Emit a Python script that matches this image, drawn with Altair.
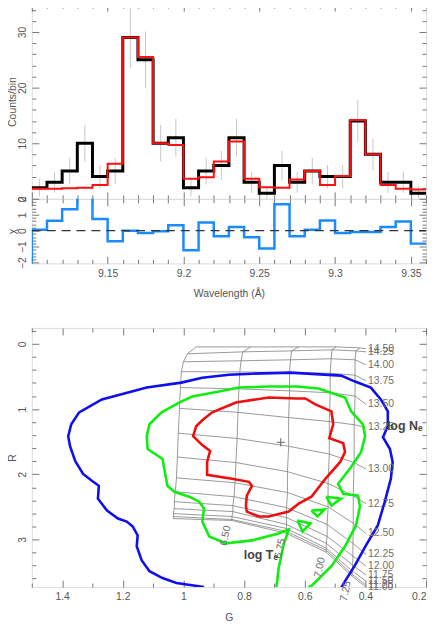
import altair as alt
import pandas as pd

# ---------------- spectrum panel ----------------
bin_lo = [9.10, 9.11, 9.12, 9.13, 9.14, 9.15, 9.16, 9.17, 9.18, 9.19, 9.20, 9.21, 9.22,
          9.23, 9.24, 9.25, 9.26, 9.27, 9.28, 9.29, 9.30, 9.31, 9.32, 9.33, 9.34, 9.35]
bin_hi_end = 9.36
counts = [2, 3, 5, 10, 4, 5, 29, 25, 10, 11, 2, 5, 6, 11, 3, 1, 6, 3, 5, 4, 4, 14, 8, 3, 3, 1]
model = [1.8, 1.8, 1.9, 2.0, 2.5, 6.3, 29, 25.5, 10, 9.7, 3.6, 3.9, 6.7, 10.3, 3.6, 2.1, 2.0,
         3.5, 5.0, 2.5, 4.1, 14.2, 8.0, 2.5, 1.8, 1.7]
count_err = [1.6, 1.9, 2.4, 3.3, 2.1, 2.4, 5.5, 5.1, 3.3, 3.4, 1.6, 2.4, 2.6, 3.4, 1.9, 1.2,
             2.6, 1.9, 2.4, 2.1, 2.1, 3.8, 2.9, 1.9, 1.9, 1.2]
resid = [0.06, 0.62, 1.35, 2.4, 0.73, -0.66, 0.0, -0.15, -0.04, 0.35, -1.22, 0.52, -0.35, 0.23,
         -0.41, -1.12, 1.66, -0.35, 0.06, 0.64, -0.15, -0.08, -0.08, 0.23, 0.58, -0.81]

# ---------------- line-ratio grid (G, R) ----------------
log_ne = [14.50, 14.25, 14.00, 13.75, 13.50, 13.25, 13.00, 12.75, 12.50, 12.25, 12.00, 11.75, 11.50, 11.25, 11.00]
log_t = [6.25, 6.50, 6.75, 7.00, 7.25, 7.50]
grid_G = [
    [0.958, 0.987, 1.000, 1.007, 1.010, 1.013, 1.017, 1.020, 1.023, 1.027, 1.030, 1.030, 1.033, 1.033, 1.033],
    [0.778, 0.804, 0.810, 0.814, 0.817, 0.820, 0.823, 0.827, 0.830, 0.833, 0.837, 0.837, 0.840, 0.840, 0.840],
    [0.620, 0.643, 0.647, 0.650, 0.650, 0.653, 0.653, 0.657, 0.657, 0.660, 0.660, 0.660, 0.660, 0.660, 0.660],
    [0.496, 0.510, 0.513, 0.516, 0.516, 0.519, 0.519, 0.523, 0.523, 0.526, 0.526, 0.529, 0.529, 0.529, 0.529],
    [0.418, 0.431, 0.434, 0.434, 0.434, 0.437, 0.437, 0.440, 0.440, 0.441, 0.441, 0.442, 0.443, 0.444, 0.444],
    [0.398, 0.398, 0.398, 0.398, 0.398, 0.398, 0.398, 0.398, 0.398, 0.398, 0.398, 0.398, 0.398, 0.398, 0.398],
]
grid_R = [
    [0.046, 0.152, 0.274, 0.426, 0.670, 0.989, 1.370, 1.735, 2.055, 2.268, 2.420, 2.527, 2.603, 2.648, 2.679],
    [0.046, 0.122, 0.259, 0.430, 0.690, 1.050, 1.450, 1.820, 2.130, 2.344, 2.481, 2.572, 2.648, 2.694, 2.709],
    [0.046, 0.107, 0.244, 0.440, 0.720, 1.130, 1.570, 1.960, 2.280, 2.511, 2.664, 2.770, 2.831, 2.877, 2.907],
    [0.046, 0.091, 0.228, 0.450, 0.750, 1.190, 1.690, 2.140, 2.500, 2.770, 2.953, 3.059, 3.135, 3.166, 3.196],
    [0.061, 0.107, 0.244, 0.480, 0.800, 1.240, 1.820, 2.330, 2.750, 3.059, 3.257, 3.394, 3.486, 3.531, 3.562],
    [0.076, 0.122, 0.320, 0.563, 0.928, 1.279, 1.918, 2.451, 2.907, 3.227, 3.409, 3.546, 3.638, 3.699, 3.729],
]

# ---------------- confidence contours ----------------
blue_G = [0.932, 1.023, 1.069, 1.112, 1.138, 1.154, 1.151, 1.167, 1.187, 1.216, 1.252, 1.282, 1.279, 1.302,
          1.331, 1.357, 1.374, 1.380, 1.370, 1.344, 1.269, 1.121, 1.007, 0.938, 0.850, 0.774, 0.647, 0.480,
          0.434, 0.382, 0.349, 0.326, 0.326, 0.342, 0.319, 0.310, 0.316, 0.336, 0.359, 0.398, 0.434, 0.467, 0.480]
blue_R = [3.729, 3.668, 3.592, 3.486, 3.318, 3.105, 2.938, 2.801, 2.725, 2.679, 2.557, 2.374, 2.177, 2.100,
          1.994, 1.796, 1.568, 1.416, 1.233, 1.050, 0.852, 0.670, 0.594, 0.518, 0.472, 0.457, 0.441, 0.487,
          0.578, 0.670, 0.852, 1.035, 1.263, 1.431, 1.613, 1.811, 2.070, 2.420, 2.785, 3.090, 3.394, 3.638, 3.744]
green_G = [0.693, 0.686, 0.670, 0.653, 0.686, 0.774, 0.860, 0.915, 0.938, 0.932, 0.948, 0.981, 1.030, 1.053,
           1.063, 1.069, 1.118, 1.121, 1.112, 1.072, 1.013, 0.971, 0.882, 0.817, 0.719, 0.627, 0.555, 0.467,
           0.447, 0.408, 0.401, 0.414, 0.447, 0.490, 0.473, 0.424, 0.418, 0.431, 0.467, 0.512, 0.578, 0.588]
green_R = [3.729, 3.440, 3.090, 2.846, 2.907, 3.014, 3.059, 2.953, 2.725, 2.527, 2.420, 2.344, 2.268, 2.177,
           1.918, 1.766, 1.613, 1.416, 1.233, 1.050, 0.898, 0.807, 0.731, 0.670, 0.654, 0.654, 0.685, 0.822,
           1.035, 1.233, 1.416, 1.659, 1.887, 2.146, 2.298, 2.329, 2.496, 2.785, 3.105, 3.409, 3.714, 3.729]
green_isl1_G = [0.529, 0.480, 0.512, 0.529]
green_isl1_R = [2.344, 2.374, 2.481, 2.344]
green_isl2_G = [0.578, 0.535, 0.558, 0.578]
green_isl2_R = [2.557, 2.542, 2.648, 2.557]
green_isl3_G = [0.624, 0.581, 0.607, 0.624]
green_isl3_R = [2.709, 2.755, 2.877, 2.709]
red_G = [0.627, 0.598, 0.565, 0.512, 0.506, 0.519, 0.473, 0.467, 0.483, 0.532, 0.578, 0.620, 0.653, 0.719,
         0.751, 0.791, 0.794, 0.791, 0.774, 0.784, 0.840, 0.922, 0.922, 0.912, 0.938, 0.968, 0.958, 0.938,
         0.905, 0.827, 0.719, 0.627]
red_R = [0.837, 0.837, 0.928, 1.035, 1.233, 1.446, 1.522, 1.659, 1.811, 2.070, 2.344, 2.451, 2.572, 2.648,
         2.648, 2.572, 2.481, 2.329, 2.177, 2.116, 2.070, 2.009, 1.811, 1.644, 1.553, 1.416, 1.263, 1.172,
         1.050, 0.898, 0.822, 0.837]
best_fit = {"G": [0.679], "R": [1.51]}
annot_text = ["log Nₑ", "log Tₑ"]
annot_G = [0.329, 0.801]
annot_R = [1.263, 3.242]

# ---------------- styling ----------------
FONT = "Liberation Sans"
LBL = "#555555"
TICK = "#777777"
W = 397


def axis(orient, values, major, labels=False, title=None, fmt=None, angle=None, pad=13, show=None, **kw):
    lab_test = major if show is None else f"({major}) && ({show})"
    d = dict(orient=orient, values=values, domain=False, grid=False, labels=labels,
             tickSize=alt.ExprRef(expr=f"({major}) ? -7 : -4"), tickColor=TICK, tickWidth=1,
             labelFont=FONT, labelFontSize=10.5, labelColor=LBL, labelOverlap=False, labelBound=False,
             labelPadding=pad, labelExpr=f"({lab_test}) ? datum.label : ''",
             titleFont=FONT, titleFontSize=10.5, titleColor=LBL, titleFontWeight="normal",
             title=title)
    if fmt:
        d["format"] = fmt
    if angle is not None:
        d.update(labelAngle=angle, labelAlign="center", labelBaseline="bottom")
    d.update(kw)
    return alt.Axis(**d)


top_x_vals = [round(9.10 + 0.01 * i, 2) for i in range(27)]
maj_x = "abs(datum.value*20 - round(datum.value*20)) < 1e-6"

# ---------------- top panel ----------------
step_df = pd.DataFrame({"x": bin_lo + [bin_hi_end], "data": counts + [counts[-1]],
                        "model": model + [model[-1]], "i": list(range(len(bin_lo) + 1))})
err_df = pd.DataFrame({"xc": [b + 0.005 for b in bin_lo],
                       "lo": [c - e for c, e in zip(counts, count_err)],
                       "hi": [c + e for c, e in zip(counts, count_err)]})
xs_top = alt.Scale(domain=[9.1, 9.36], nice=False, zero=False)
ys_top = alt.Scale(domain=[0, 35], nice=False, zero=False)
cnt_vals = list(range(0, 36, 2))
maj_c = "datum.value % 10 == 0"
TX = -19
YP = 11

err_layer = alt.Chart(err_df).mark_rule(color="#c8c8c8", strokeWidth=1, clip=True).encode(
    x=alt.X("xc:Q", scale=xs_top, axis=None),
    y=alt.Y("lo:Q", scale=ys_top, axis=None), y2="hi:Q")
black_layer = alt.Chart(step_df).mark_line(interpolate="step-after", color="black", strokeWidth=3,
                                           clip=True).encode(
    x=alt.X("x:Q", scale=xs_top, axis=axis("bottom", top_x_vals, maj_x)),
    y=alt.Y("data:Q", scale=ys_top,
            axis=axis("left", cnt_vals, maj_c, labels=True, title="Counts/bin", angle=270, fmt="~g",
                      pad=YP, titleX=TX, titleBaseline="middle")),
    order="i:Q")
red_layer = alt.Chart(step_df).mark_line(interpolate="step-after", color="#ff1010", strokeWidth=2,
                                         clip=True).encode(
    x=alt.X("x:Q", scale=xs_top, axis=axis("top", top_x_vals, maj_x)),
    y=alt.Y("model:Q", scale=ys_top, axis=axis("right", cnt_vals, maj_c)),
    order="i:Q")
top = alt.layer(err_layer, black_layer, red_layer).resolve_axis(
    x="independent", y="independent").properties(width=W, height=196)

# ---------------- residual panel ----------------
res_df = pd.DataFrame({"x": [bin_lo[0]] + bin_lo + [bin_hi_end],
                       "r": [-2.05] + resid + [resid[-1]],
                       "i": list(range(len(bin_lo) + 2))})
ys_res = alt.Scale(domain=[-2.05, 2.0], nice=False, zero=False)
res_vals = [round(-2.0 + 0.2 * i, 1) for i in range(21)]
maj_r = "abs(datum.value - round(datum.value)) < 1e-6"
res_layer = alt.Chart(res_df).mark_line(interpolate="step-after", color="#1a8cff", strokeWidth=2.5,
                                        clip=True).encode(
    x=alt.X("x:Q", scale=xs_top,
            axis=axis("bottom", top_x_vals, maj_x, labels=True, title="Wavelength (Å)", fmt=".2~f",
                      pad=12, show="datum.value > 9.12", titleY=30, titleBaseline="middle")),
    y=alt.Y("r:Q", scale=ys_res,
            axis=axis("left", res_vals, maj_r, labels=True, title="χ", angle=270, fmt="~g",
                      pad=YP, titleX=TX, titleBaseline="middle")),
    order="i:Q")
zero_df = pd.DataFrame({"x0": [9.1], "x1": [9.36], "y": [0.0]})
zero_layer = alt.Chart(zero_df).mark_rule(color="#333333", strokeWidth=1.2, strokeDash=[9, 6]).encode(
    x=alt.X("x0:Q", scale=xs_top, axis=axis("top", top_x_vals, maj_x)), x2="x1:Q",
    y=alt.Y("y:Q", scale=ys_res, axis=axis("right", res_vals, maj_r)))
resid_panel = alt.layer(res_layer, zero_layer).resolve_axis(
    x="independent", y="independent").properties(width=W, height=65)

# ---------------- bottom panel ----------------
rows = []
for c, t in enumerate(log_t):
    for r, ne in enumerate(log_ne):
        rows.append({"G": grid_G[c][r], "R": grid_R[c][r], "col": c, "row": r, "T": t, "Ne": ne})
grid_df = pd.DataFrame(rows)

xs_g = alt.Scale(domain=[0.2, 1.5], reverse=True, nice=False, zero=False)
ys_g = alt.Scale(domain=[-0.245, 3.73], reverse=True, nice=False, zero=False)
g_vals = [round(0.2 + 0.1 * i, 1) for i in range(14)]
maj_g = "abs(datum.value*5 - round(datum.value*5)) < 1e-6"
r_vals = [round(-0.2 + 0.2 * i, 1) for i in range(20)]

ne_lines = alt.Chart(grid_df).mark_line(color="#808080", strokeWidth=0.8, clip=True).encode(
    x=alt.X("G:Q", scale=xs_g,
            axis=axis("bottom", g_vals, maj_g, labels=True, title="G", fmt="~g", pad=12,
                      show="datum.value < 1.45", titleY=31, titleBaseline="middle")),
    y=alt.Y("R:Q", scale=ys_g,
            axis=axis("left", r_vals, maj_r, labels=True, title="R", angle=270, fmt="~g",
                      pad=YP, titleX=TX, titleBaseline="middle")),
    detail="row:N", order="col:Q")
t_lines = alt.Chart(grid_df).transform_filter("datum.col < 5").mark_line(
    color="#808080", strokeWidth=0.8, clip=True).encode(
    x=alt.X("G:Q", scale=xs_g, axis=axis("top", g_vals, maj_g)),
    y=alt.Y("R:Q", scale=ys_g, axis=axis("right", r_vals, maj_r)),
    detail="col:N", order="row:Q")

ne_lab = alt.Chart(grid_df).transform_filter("datum.col == 5").mark_text(
    align="left", baseline="middle", dx=2, font=FONT, fontSize=10.5, color="#707070").encode(
    x=alt.X("G:Q", scale=xs_g, axis=None), y=alt.Y("R:Q", scale=ys_g, axis=None),
    text=alt.Text("Ne:Q", format=".2f"))
t_lab = alt.Chart(grid_df).transform_filter("datum.row == 14 && datum.col >= 1 && datum.col <= 4").mark_text(
    align="right", baseline="middle", angle=282, dx=-6, dy=-3, font=FONT, fontSize=10.5,
    color="#707070").encode(
    x=alt.X("G:Q", scale=xs_g, axis=None), y=alt.Y("R:Q", scale=ys_g, axis=None),
    text=alt.Text("T:Q", format=".2f"))

crow = []
for cid, gs, rs, colr in [("blue", blue_G, blue_R, "blue"), ("green", green_G, green_R, "green"),
                          ("g1", green_isl1_G, green_isl1_R, "green"),
                          ("g2", green_isl2_G, green_isl2_R, "green"),
                          ("g3", green_isl3_G, green_isl3_R, "green"), ("red", red_G, red_R, "red")]:
    assert len(gs) == len(rs)
    for i, (g, r) in enumerate(zip(gs, rs)):
        crow.append({"G": g, "R": r, "id": cid, "i": i, "level": colr})
cont_df = pd.DataFrame(crow)
contours = alt.Chart(cont_df).mark_line(strokeWidth=2.6, clip=True).encode(
    x=alt.X("G:Q", scale=xs_g, axis=None), y=alt.Y("R:Q", scale=ys_g, axis=None),
    color=alt.Color("level:N", scale=alt.Scale(domain=["blue", "green", "red"],
                                               range=["#1010ee", "#10ee10", "#ee1010"]), legend=None),
    detail="id:N", order="i:Q")

cross = alt.Chart(pd.DataFrame(best_fit)).mark_point(
    shape="M-1,0L1,0M0,-1L0,1", size=70, stroke="#222222", strokeWidth=1, filled=False).encode(
    x=alt.X("G:Q", scale=xs_g, axis=None), y=alt.Y("R:Q", scale=ys_g, axis=None))
annot = alt.Chart(pd.DataFrame({"G": annot_G, "R": annot_R, "t": annot_text})).mark_text(
    align="left", baseline="middle", font=FONT, fontSize=12.5, fontWeight="bold", color="#444444").encode(
    x=alt.X("G:Q", scale=xs_g, axis=None), y=alt.Y("R:Q", scale=ys_g, axis=None), text="t:N")

bottom = alt.layer(ne_lines, t_lines, contours, ne_lab, t_lab, cross, annot).resolve_axis(
    x="independent", y="independent").properties(width=W, height=261)

upper = alt.vconcat(top, resid_panel, spacing=0, bounds="flush")
chart = alt.vconcat(upper, bottom, spacing=28).properties(
    padding={"left": -1, "top": -7, "right": 0, "bottom": 0}
).configure_view(stroke="#888888", strokeWidth=1).configure(background="white")

chart.save("out.html", embed_options={"renderer": "svg", "actions": False})
